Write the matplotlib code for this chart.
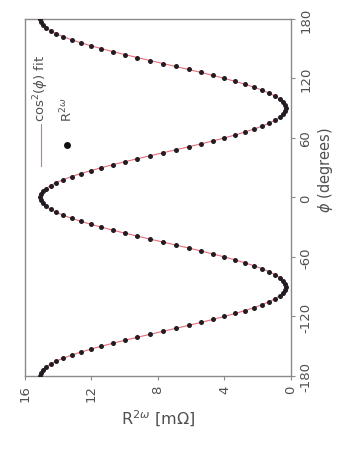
import numpy as np
import matplotlib
matplotlib.use("Agg")
import matplotlib.pyplot as plt

plt.rcParams["axes.unicode_minus"] = False

# angle (degrees), 3 degree steps
phi = list(range(-180, 181, 3))

# R^2w values, one per angle (mOhm)
quarter = [15.10, 15.06, 14.94, 14.74, 14.46, 14.11, 13.69, 13.20, 12.65, 12.05,
           11.40, 10.71, 9.99, 9.24, 8.47, 7.70, 6.93, 6.16, 5.41, 4.69,
           4.00, 3.35, 2.75, 2.20, 1.71, 1.29, 0.94, 0.66, 0.46, 0.34, 0.30]
r2w = quarter + quarter[-2::-1] + quarter[1:] + quarter[-2::-1]

r_ticks = [0, 4, 8, 12, 16]
phi_ticks = [-180, -120, -60, 0, 60, 120, 180]

text_col = "#505050"
frame_col = "#8a8a8a"

fig = plt.figure(figsize=(3.4, 4.52), dpi=100)
ax = fig.add_axes([0.0735, 0.166, 0.782, 0.790])

# chart is shown turned a quarter turn: R runs along the bottom, phi up the right side
ax.plot(r2w, phi, color="#e03040", lw=0.8, alpha=0.7, zorder=2)
ax.plot(r2w, phi, "o", color="#231c23", ms=3.6, mew=0, zorder=3)

ax.set_xlim(16, 0)
ax.set_ylim(-180, 180)
ax.set_xticks(r_ticks)
ax.set_yticks(phi_ticks)
ax.yaxis.tick_right()
ax.yaxis.set_label_position("right")

ax.tick_params(axis="x", labelrotation=90, labelsize=9.5, colors=text_col,
               length=3, color=frame_col, pad=3)
ax.tick_params(axis="y", labelrotation=90, labelsize=9.5, colors=text_col,
               length=3, color=frame_col, pad=3)
for lab in ax.get_yticklabels():
    lab.set_va("center")
for s in ax.spines.values():
    s.set_color(frame_col)
    s.set_linewidth(1.0)

ax.set_xlabel(r"R$^{2\omega}$ [m$\Omega$]", fontsize=11.5, color=text_col, labelpad=5)
ax.set_ylabel(r"$\phi$ (degrees)", fontsize=10.5, color=text_col, rotation=90)
ax.yaxis.set_label_coords(1.095, 0.58)

# legend drawn sideways to match the turned chart
tr = ax.transAxes
ax.plot([0.06, 0.06], [0.588, 0.706], color="#e03040", lw=0.8, alpha=0.7, transform=tr)
ax.text(0.06, 0.715, r"cos$^2$($\phi$) fit", transform=tr, rotation=90,
        rotation_mode="anchor", ha="left", va="center", fontsize=9.5, color=text_col)
ax.plot([0.158], [0.647], "o", color="#111111", ms=5, mew=0, transform=tr)
ax.text(0.158, 0.715, r"R$^{2\omega}$", transform=tr, rotation=90,
        rotation_mode="anchor", ha="left", va="center", fontsize=9.5, color=text_col)

fig.savefig("out.png", dpi=100)
